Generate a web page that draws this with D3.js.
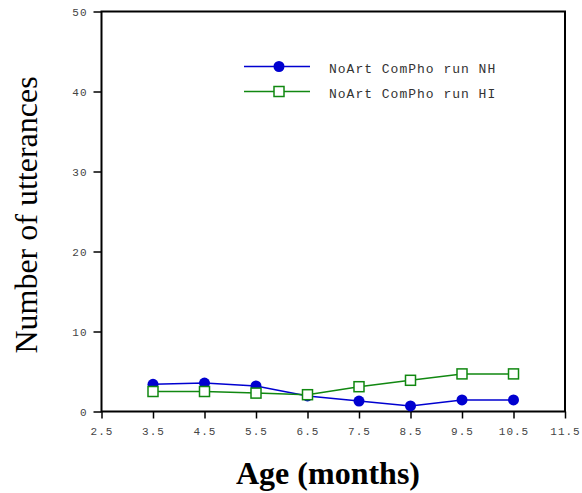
<!DOCTYPE html>
<html><head><meta charset="utf-8">
<script src="https://cdn.jsdelivr.net/npm/d3@7"></script>
<style>body{margin:0;background:#fff}</style>
</head><body><svg id="c" width="582" height="493"></svg>
<script>
const ages = [3.5, 4.5, 5.5, 6.5, 7.5, 8.5, 9.5, 10.5];
const nhValues = [3.4, 3.55, 3.2, 1.95, 1.3, 0.7, 1.45, 1.45];
const hiValues = [2.5, 2.5, 2.3, 2.1, 3.1, 3.9, 4.7, 4.7];
const xTicks = [2.5, 3.5, 4.5, 5.5, 6.5, 7.5, 8.5, 9.5, 10.5, 11.5];
const yTicks = [0, 10, 20, 30, 40, 50];
const seriesNames = ["NoArt ComPho run NH", "NoArt ComPho run HI"];

const svg = d3.select("#c");
const L = 101.5, R = 565, T = 11.5, B = 411.5;
const x = d3.scaleLinear().domain([2.5, 11.5]).range([L, R]);
const y = d3.scaleLinear().domain([0, 50]).range([B, T]);

svg.append("rect").attr("x", L).attr("y", T).attr("width", R - L).attr("height", B - T)
  .attr("fill", "none").attr("stroke", "#000").attr("stroke-width", 2);

const mono = "'Liberation Mono', 'DejaVu Sans Mono', monospace";
const serif = "'Liberation Serif', 'Times New Roman', serif";
const xa = svg.append("g").attr("transform", `translate(0,${B})`)
  .call(d3.axisBottom(x).tickValues(xTicks).tickSize(7).tickFormat(d3.format(".1f")));
xa.select(".domain").remove();
xa.selectAll("line").attr("stroke", "#000").attr("stroke-width", 1.5);
xa.selectAll("text").attr("font-family", mono).attr("font-size", 11).attr("fill", "#444")
  .attr("letter-spacing", "1px").attr("dy", "1.2em");

const ya = svg.append("g").attr("transform", `translate(${L},0)`)
  .call(d3.axisLeft(y).tickValues(yTicks).tickSize(8).tickFormat(d3.format("d")));
ya.select(".domain").remove();
ya.selectAll("line").attr("stroke", "#000").attr("stroke-width", 1.5);
ya.selectAll("text").attr("font-family", mono).attr("font-size", 11).attr("fill", "#444")
  .attr("letter-spacing", "1px").attr("x", -14);

const blue = "#0000d0", green = "#118811";
const line = d3.line().x((d, i) => x(ages[i])).y(d => y(d));

svg.append("path").datum(nhValues).attr("d", line).attr("fill", "none")
  .attr("stroke", blue).attr("stroke-width", 1.5);
svg.selectAll(".nh").data(nhValues).join("circle").attr("class", "nh")
  .attr("cx", (d, i) => x(ages[i])).attr("cy", d => y(d)).attr("r", 5.5).attr("fill", blue);

svg.append("path").datum(hiValues).attr("d", line).attr("fill", "none")
  .attr("stroke", green).attr("stroke-width", 1.5);
svg.selectAll(".hi").data(hiValues).join("rect").attr("class", "hi")
  .attr("x", (d, i) => x(ages[i]) - 5).attr("y", d => y(d) - 5)
  .attr("width", 10).attr("height", 10).attr("fill", "#fff")
  .attr("stroke", green).attr("stroke-width", 1.5);

const lg = svg.append("g");
[0, 1].forEach(i => {
  const yy = 66.5 + i * 25;
  const c = i === 0 ? blue : green;
  lg.append("line").attr("x1", 244).attr("x2", 310).attr("y1", yy).attr("y2", yy)
    .attr("stroke", c).attr("stroke-width", 1.5);
  if (i === 0) lg.append("circle").attr("cx", 279).attr("cy", yy).attr("r", 5.5).attr("fill", c);
  else lg.append("rect").attr("x", 274).attr("y", yy - 5).attr("width", 10).attr("height", 10)
    .attr("fill", "#fff").attr("stroke", c).attr("stroke-width", 1.5);
  lg.append("text").attr("x", 329).attr("y", yy + 6).attr("font-family", mono)
    .attr("font-size", 13).attr("letter-spacing", "1px").attr("fill", "#333").text(seriesNames[i]);
});

svg.append("text").attr("x", 328).attr("y", 484).attr("text-anchor", "middle")
  .attr("font-family", serif).attr("font-weight", "bold")
  .attr("font-size", 32).text("Age (months)");
svg.append("text").attr("transform", "translate(37,215) rotate(-90)").attr("text-anchor", "middle")
  .attr("font-family", serif).attr("font-size", 32).text("Number of utterances");
</script></body></html>
